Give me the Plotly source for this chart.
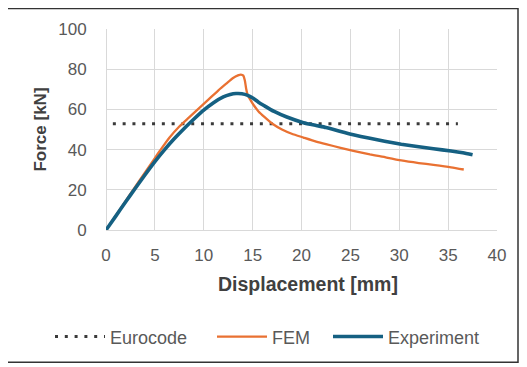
import plotly.graph_objects as go

# ---- data ----
euro_x = [0.7, 36.0]
euro_y = [52.8, 52.8]

fem_x = [0, 1, 2, 3, 4, 5, 5.5, 6.5, 7.5, 8.5, 9.5, 10.5, 11.5, 12.3, 13.0, 13.5, 13.8, 14.05, 14.2, 14.35, 14.5, 14.8,
         15.1, 15.6, 16.2, 17.1, 18.0, 19.0, 20.2, 21.5, 22.5, 24.0, 25.3, 27.0, 28.0, 30.2, 32.0, 33.5, 35.3, 36.6]
fem_y = [0, 7.2, 14.4, 21.6, 28.7, 35.8, 39.3, 46.0, 51.5, 56.0, 60.5, 65.0, 69.5, 72.8, 75.6, 76.9, 77.3, 76.8, 74.5, 70.0, 67.0, 64.5,
         62.2, 59.0, 56.3, 52.6, 50.0, 47.9, 46.0, 44.0, 42.7, 40.9, 39.4, 37.6, 36.7, 34.6, 33.3, 32.4, 31.2, 30.1]

exp_x = [0, 1, 2, 3, 4, 5, 6, 7, 8, 9, 10, 11, 12, 12.7, 13.3, 13.9, 14.5, 15.1, 15.6, 16.2, 17.2, 18.5, 20.2, 21.5, 22.5,
         24.0, 25.3, 27.0, 28.5, 30.2, 32.0, 33.5, 35.3, 36.5, 37.5]
exp_y = [0, 6.9, 13.9, 20.8, 27.5, 34.0, 40.0, 45.5, 50.5, 55.2, 59.6, 63.3, 66.2, 67.4, 67.9, 67.8, 67.0, 65.4, 63.6, 61.8, 59.0, 56.2, 53.4, 52.0, 51.0,
         49.0, 47.4, 45.6, 44.2, 42.7, 41.4, 40.4, 39.3, 38.4, 37.4]

x_ticks = [0, 5, 10, 15, 20, 25, 30, 35, 40]
y_ticks = [0, 20, 40, 60, 80, 100]

FONT = "Liberation Sans, Arial, sans-serif"
GRID = "#D9D9D9"
TXT = "#595959"
TITLE = "#404040"

# plot area in page pixels: x 106..497, y 25..230 (page has an 8px body offset)
def px_x(p):
    return (p - 106) / 391.0

def px_y(p):
    return (230 - p) / 205.0

fig = go.Figure()
fig.add_trace(go.Scatter(x=euro_x, y=euro_y, mode="lines", name="Eurocode", legend="legend",
                         line=dict(color="#3a3a3a", width=3, dash="3px,6.8px")))
fig.add_trace(go.Scatter(x=fem_x, y=fem_y, mode="lines", name="FEM", legend="legend2",
                         line=dict(color="#E97132", width=2.3, shape="spline", smoothing=0.6)))
fig.add_trace(go.Scatter(x=exp_x, y=exp_y, mode="lines", name="Experiment", legend="legend3",
                         line=dict(color="#156082", width=3.6, shape="spline", smoothing=0.6)))

leg_common = dict(orientation="h", xanchor="left", yanchor="middle", y=px_y(339),
                  font=dict(family=FONT, size=18, color=TXT), bgcolor="rgba(0,0,0,0)",
                  itemwidth=50)

fig.update_layout(
    width=519, height=359,
    margin=dict(l=98, r=30, t=17, b=137),
    paper_bgcolor="white", plot_bgcolor="white",
    font=dict(family=FONT, color=TXT, size=17),
    showlegend=True,
    legend=dict(x=px_x(50), **leg_common),
    legend2=dict(x=px_x(212), **leg_common),
    legend3=dict(x=px_x(328), **leg_common),
    xaxis=dict(range=[0, 40], tickvals=x_ticks, ticktext=[str(v) for v in x_ticks],
               showgrid=True, gridcolor=GRID, gridwidth=1, zeroline=True, zerolinecolor=GRID,
               zerolinewidth=1, showline=False, ticks="outside", ticklen=10,
               tickcolor="rgba(0,0,0,0)", tickfont=dict(size=17, color=TXT)),
    yaxis=dict(range=[0, 100], tickvals=y_ticks, ticktext=[str(v) for v in y_ticks],
               showgrid=True, gridcolor=GRID, gridwidth=1, zeroline=True, zerolinecolor=GRID,
               zerolinewidth=1, showline=False, ticks="outside", ticklen=15,
               tickcolor="rgba(0,0,0,0)", tickfont=dict(size=17, color=TXT),
               title=dict(text="<b>Force [kN]</b>", font=dict(size=17, color=TITLE), standoff=7)),
)

# x-axis title placed as in the reference
fig.add_annotation(text="<b>Displacement [mm]</b>", xref="paper", yref="paper",
                   x=px_x(307.5), y=px_y(285), xanchor="center", yanchor="middle",
                   showarrow=False, font=dict(family=FONT, size=19.5, color=TITLE))

# outer frame around the whole chart
fig.add_shape(type="rect", xref="paper", yref="paper",
              x0=px_x(4), x1=px_x(518), y0=px_y(365), y1=px_y(4),
              line=dict(color="#333333", width=1.5), fillcolor="rgba(0,0,0,0)", layer="below")

fig.write_html("out.html")
